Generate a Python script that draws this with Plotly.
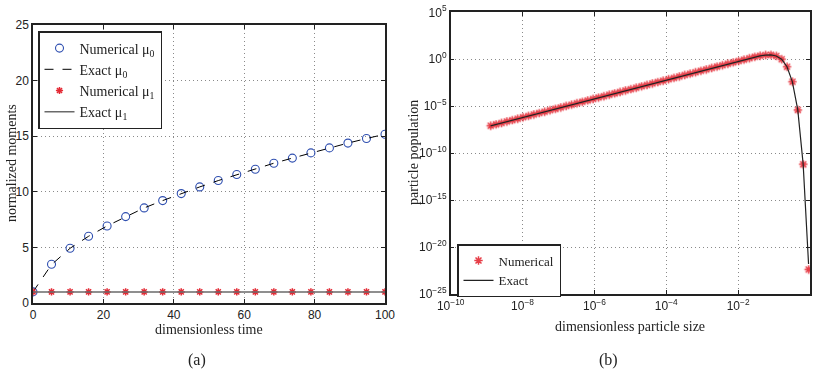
import plotly.graph_objects as go

# ---------- panel (a) data ----------
time_pts = [0, 5.26, 10.53, 15.79, 21.05, 26.32, 31.58, 36.84, 42.11, 47.37,
            52.63, 57.89, 63.16, 68.42, 73.68, 78.95, 84.21, 89.47, 94.74, 100]
mu0_num = [1.0, 3.48, 4.92, 6.0, 6.93, 7.77, 8.55, 9.21, 9.84, 10.44,
           11.01, 11.55, 12.03, 12.57, 13.03, 13.5, 13.95, 14.38, 14.79, 15.18]
mu0_exact = [1.0, 3.45, 4.92, 6.0, 6.93, 7.77, 8.55, 9.21, 9.84, 10.44,
             11.01, 11.55, 12.03, 12.57, 13.03, 13.5, 13.95, 14.38, 14.79, 15.18]
mu1_num = [1.0] * 20
mu1_exact = [1.0] * 20

# ---------- panel (b) data (log10 values) ----------
size_exp = [-8.89, -8.74, -8.59, -8.44, -8.29, -8.14, -7.99, -7.84, -7.69, -7.54,
            -7.39, -7.24, -7.09, -6.94, -6.79, -6.64, -6.49, -6.34, -6.19, -6.04,
            -5.89, -5.74, -5.59, -5.44, -5.29, -5.14, -4.99, -4.84, -4.69, -4.54,
            -4.39, -4.24, -4.09, -3.94, -3.79, -3.64, -3.49, -3.34, -3.19, -3.04,
            -2.89, -2.74, -2.59, -2.44, -2.29, -2.14, -1.99, -1.84, -1.69, -1.54,
            -1.39, -1.24, -1.09, -0.94, -0.79, -0.64, -0.49, -0.34, -0.19, -0.04]
pop_num_exp = [-7.09, -6.94, -6.79, -6.64, -6.49, -6.34, -6.19, -6.04, -5.89, -5.74,
               -5.59, -5.44, -5.29, -5.14, -4.99, -4.84, -4.69, -4.54, -4.39, -4.24,
               -4.09, -3.94, -3.79, -3.64, -3.49, -3.34, -3.19, -3.04, -2.89, -2.74,
               -2.59, -2.44, -2.29, -2.14, -1.99, -1.84, -1.69, -1.54, -1.39, -1.24,
               -1.09, -0.94, -0.79, -0.64, -0.49, -0.34, -0.20, -0.05, 0.10, 0.25,
               0.36, 0.44, 0.46, 0.35, 0.0, -0.8, -2.4, -5.4, -11.2, -22.4]
pop_exact_exp = [-7.09, -6.94, -6.79, -6.64, -6.49, -6.34, -6.19, -6.04, -5.89, -5.74,
                 -5.59, -5.44, -5.29, -5.14, -4.99, -4.84, -4.69, -4.54, -4.39, -4.24,
                 -4.09, -3.94, -3.79, -3.64, -3.49, -3.34, -3.19, -3.04, -2.89, -2.74,
                 -2.59, -2.44, -2.29, -2.14, -1.99, -1.84, -1.69, -1.54, -1.39, -1.24,
                 -1.09, -0.94, -0.79, -0.64, -0.49, -0.34, -0.20, -0.05, 0.10, 0.25,
                 0.36, 0.44, 0.46, 0.35, 0.0, -0.8, -2.4, -5.4, -11.2, -21.8]

x_tick_exp = [-10, -8, -6, -4, -2, 0]
y_tick_exp = [5, 0, -5, -10, -15, -20, -25]

size_vals = [10 ** e for e in size_exp]
pop_num = [10 ** e for e in pop_num_exp]
pop_exact = [10 ** e for e in pop_exact_exp]

def sup(e):
    s = str(e).replace("-", "\u2212")
    return "10<sup>" + s + "</sup>"

SERIF = "Liberation Serif, Times New Roman, serif"
SANS = "Liberation Sans, Arial, Helvetica, sans-serif"
W, H = 817, 375
RED = "#e42a35"

fig = go.Figure()

# panel (a)
fig.add_trace(go.Scatter(x=time_pts, y=mu0_num, mode="markers", name="Numerical \u03bc<sub>0</sub>",
                         marker=dict(symbol="circle-open", size=8, color="#2f4fb0", line=dict(width=1.1)),
                         xaxis="x", yaxis="y", legend="legend"))
fig.add_trace(go.Scatter(x=time_pts, y=mu0_exact, mode="lines", name="Exact \u03bc<sub>0</sub>",
                         line=dict(color="black", width=1, dash="dash"),
                         xaxis="x", yaxis="y", legend="legend"))
fig.add_trace(go.Scatter(x=time_pts, y=mu1_num, mode="markers", name="Numerical \u03bc<sub>1</sub>",
                         marker=dict(symbol="asterisk-open", size=6, color=RED,
                                     line=dict(width=1.5, color=RED)),
                         xaxis="x", yaxis="y", legend="legend"))
fig.add_trace(go.Scatter(x=time_pts, y=mu1_exact, mode="lines", name="Exact \u03bc<sub>1</sub>",
                         line=dict(color="#6a6a6a", width=1.5),
                         xaxis="x", yaxis="y", legend="legend"))

# panel (b)
fig.add_trace(go.Scatter(x=size_vals, y=pop_num, mode="markers", name="Numerical",
                         marker=dict(symbol="asterisk-open", size=7, color=RED,
                                     line=dict(width=1.5, color=RED)),
                         opacity=0.9, xaxis="x2", yaxis="y2", legend="legend2"))
fig.add_trace(go.Scatter(x=size_vals, y=pop_exact, mode="lines", name="Exact",
                         line=dict(color="#222222", width=1.2),
                         xaxis="x2", yaxis="y2", legend="legend2"))

axis_common = dict(showline=True, linecolor="#222", linewidth=1.5, mirror="ticks",
                   ticks="inside", ticklen=4, tickcolor="#222", automargin=False,
                   showgrid=True, gridcolor="#8a8a8a", griddash="1px,3px", gridwidth=1,
                   zeroline=False, tickfont=dict(family=SANS, size=12, color="#222"))

fig.update_layout(
    width=W, height=H,
    margin=dict(l=0, r=0, t=0, b=0),
    paper_bgcolor="white", plot_bgcolor="white",
    xaxis=dict(domain=[33 / W, 385 / W], range=[0, 100], dtick=20, anchor="y", **axis_common),
    yaxis=dict(domain=[1 - 303 / H, 1 - 25 / H], range=[0, 25], dtick=5, anchor="x", **axis_common),
    xaxis2=dict(domain=[450.7 / W, 810 / W], type="log", range=[-10, 0], anchor="y2",
                tickvals=[10 ** e for e in x_tick_exp], ticktext=[sup(e) for e in x_tick_exp],
                **axis_common),
    yaxis2=dict(domain=[1 - 294 / H, 1 - 12.3 / H], type="log", range=[-25, 5], anchor="x2",
                tickvals=[10 ** e for e in y_tick_exp], ticktext=[sup(e) for e in y_tick_exp],
                **axis_common),
    legend=dict(x=38 / W, y=1 - 31 / H, xanchor="left", yanchor="top",
                bgcolor="white", bordercolor="#222", borderwidth=1.5,
                font=dict(family=SERIF, size=14, color="#222")),
    legend2=dict(x=457 / W, y=1 - 244 / H, xanchor="left", yanchor="top",
                 bgcolor="white", bordercolor="#222", borderwidth=1.5,
                 font=dict(family=SERIF, size=13, color="#222")),
    showlegend=True,
)

ann_font = dict(family=SERIF, size=14, color="#222")
annotations = [
    dict(text="normalized moments", x=11 / W, y=1 - 163 / H, textangle=-90),
    dict(text="dimensionless time", x=209 / W, y=1 - 329 / H),
    dict(text="particle population", x=414 / W, y=1 - 153 / H, textangle=-90),
    dict(text="dimensionless particle size", x=630 / W, y=1 - 326 / H),
]
for a in annotations:
    fig.add_annotation(xref="paper", yref="paper", showarrow=False, font=ann_font,
                       xanchor="center", yanchor="middle", **a)
for txt, xc in [("(a)", 197), ("(b)", 608)]:
    fig.add_annotation(xref="paper", yref="paper", showarrow=False,
                       font=dict(family=SERIF, size=16, color="#222"),
                       text=txt, x=xc / W, y=1 - 360 / H, xanchor="center", yanchor="middle")

fig.write_html("out.html", config={"displayModeBar": False},
               post_script="document.body.style.margin='0';document.body.style.overflow='hidden';")
